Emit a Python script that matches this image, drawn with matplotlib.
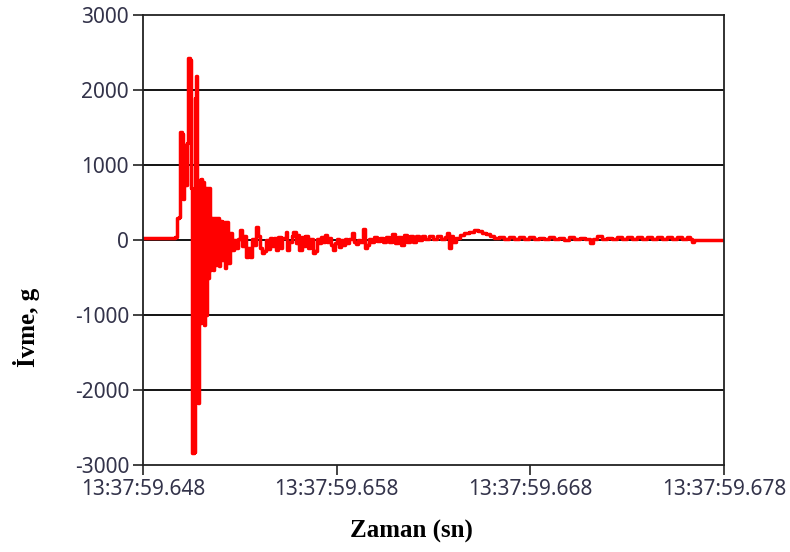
import numpy as np
import matplotlib
matplotlib.use("Agg")
import matplotlib.pyplot as plt

# zaman: 13:37:59.648'den itibaren ms, ivme: g
zaman_ms = [0.0, 1.6, 1.65, 1.76, 1.87, 1.92, 2.02, 2.07, 2.12, 2.18, 2.28, 2.33, 2.44, 2.49,
            2.54, 2.64, 2.69, 2.75, 2.80, 2.85, 2.90, 2.95, 3.00, 3.06, 3.11, 3.16, 3.21,
            3.26, 3.32, 3.37, 3.42, 3.47, 3.52, 3.60, 3.68, 3.76, 3.83, 3.91, 3.99, 4.07,
            4.15, 4.22, 4.30, 4.40, 4.50, 4.61, 4.72, 4.82, 4.92, 5.03, 5.13, 5.23, 5.34,
            5.44, 5.54, 5.65, 5.75, 5.85, 5.96, 6.06, 6.17, 6.27, 6.37, 6.48, 6.58, 6.68,
            6.79, 6.89, 6.99, 7.10, 7.20, 7.36, 7.46, 7.56, 7.67, 7.77, 7.88, 7.98, 8.08,
            8.19, 8.29, 8.39, 8.50, 8.60, 8.76, 8.86, 8.96, 9.07, 9.17, 9.27, 9.38, 9.48,
            9.59, 9.69, 9.79, 9.90, 10.0, 10.1, 10.21, 10.31, 10.41, 10.52, 10.62, 10.78,
            10.88, 10.98, 11.09, 11.19, 11.35, 11.45, 11.55, 11.66, 11.76, 11.92, 12.07,
            12.23, 12.38, 12.54, 12.69, 12.85, 13.0, 13.16, 13.32, 13.47, 13.63, 13.78,
            13.94, 14.09, 14.25, 14.40, 14.56, 14.77, 14.97, 15.18, 15.39, 15.60, 15.70,
            15.80, 15.90, 16.0, 16.17, 16.37, 16.58, 16.84, 17.10, 17.31, 17.51, 17.72,
            17.93, 18.13, 18.39, 18.65, 18.91, 19.17, 19.43, 19.69, 19.95, 20.21, 20.47,
            20.73, 20.98, 21.24, 21.50, 21.76, 22.02, 22.28, 22.54, 22.80, 23.06, 23.21,
            23.42, 23.68, 23.94, 24.20, 24.46, 24.72, 24.97, 25.23, 25.49, 25.75, 26.01,
            26.27, 26.53, 26.79, 27.05, 27.30, 27.56, 27.82, 28.08, 28.24, 28.34, 28.45,
            30.0]
ivme = [30, 30, 40, 300, 310, 1440, 1420, 550, 1270, 730, 1300, 2430, 2400, 700,
        -2840, -2820, 1900, 2190, -1500, -2170, 800, -1100, 820, -900, 780, -1130, 700,
        -1000, 690, -500, 690, -400, 300, -400, 290, -330, 290, -350, 250, -270,
        240, -370, 240, -300, 100, -130, 0, -100, 20, 133, -80, 60, -222,
        -100, -222, 20, -60, 178, 50, -100, -178, -150, 0, -120, 22, -80,
        30, -133, 44, -100, 30, 111, -130, -20, 50, 111, -40, 67, -133,
        40, -80, 50, -100, 20, -178, -150, 20, -40, 44, -30, 67, -20,
        30, -60, -133, -40, 20, -89, 0, -60, 20, -40, 10, 89,
        -20, -50, 0, -30, 147, -111, -60, 20, -20, 44, -10,
        30, -22, 40, -20, 80, -40, 40, -60, 70, -20, 60,
        -30, 50, 0, 60, 10, 50, 20, 60, 10, 40, 90,
        -111, 50, -20, 30, 70, 90, 110, 130, 120, 100, 80,
        50, 30, 40, 20, 45, 10, 40, 15, 35, 20, 30,
        10, 40, 15, 30, 5, 35, 15, 30, 10, -44, 20,
        50, 15, 30, 10, 35, 15, 40, 10, 35, 10, 40,
        15, 35, 10, 40, 15, 35, 10, 40, 20, -30, 5,
        5]

x_ticks = [0, 10, 20, 30]
x_tick_labels = ["13:37:59.648", "13:37:59.658", "13:37:59.668", "13:37:59.678"]
y_ticks = [-3000, -2000, -1000, 0, 1000, 2000, 3000]

fig = plt.figure(figsize=(7.9, 5.52), dpi=100)
ax = fig.add_axes([143 / 790, 87 / 552, 581 / 790, 450 / 552])

for y in [-2000, -1000, 0, 1000, 2000]:
    ax.axhline(y, color="black", linewidth=1.3, zorder=1)

ax.plot(zaman_ms, ivme, color="red", linewidth=2.5, zorder=2, drawstyle="steps-post")

ax.set_xlim(0, 30)
ax.set_ylim(-3000, 3000)
ax.set_xticks(x_ticks)
ax.set_xticklabels(x_tick_labels)
ax.set_yticks(y_ticks)
ax.set_yticklabels([str(v) for v in y_ticks])

for s in ax.spines.values():
    s.set_color("#222222")
    s.set_linewidth(1.3)

ax.tick_params(axis="both", direction="out", length=7, width=1.2, color="#222222",
               labelsize=15, labelcolor="#33334a", pad=3)
for lab in ax.get_xticklabels() + ax.get_yticklabels():
    lab.set_fontfamily("Noto Sans")

fig.text(27 / 790, 1 - 327 / 552, "İvme, g", rotation=90, ha="center", va="center",
         fontsize=18, fontweight="bold", family="Liberation Serif")
fig.text(411 / 790, 1 - 531 / 552, "Zaman (sn)", ha="center", va="center",
         fontsize=18, fontweight="bold", family="Liberation Serif")

fig.savefig("out.png", dpi=100)
